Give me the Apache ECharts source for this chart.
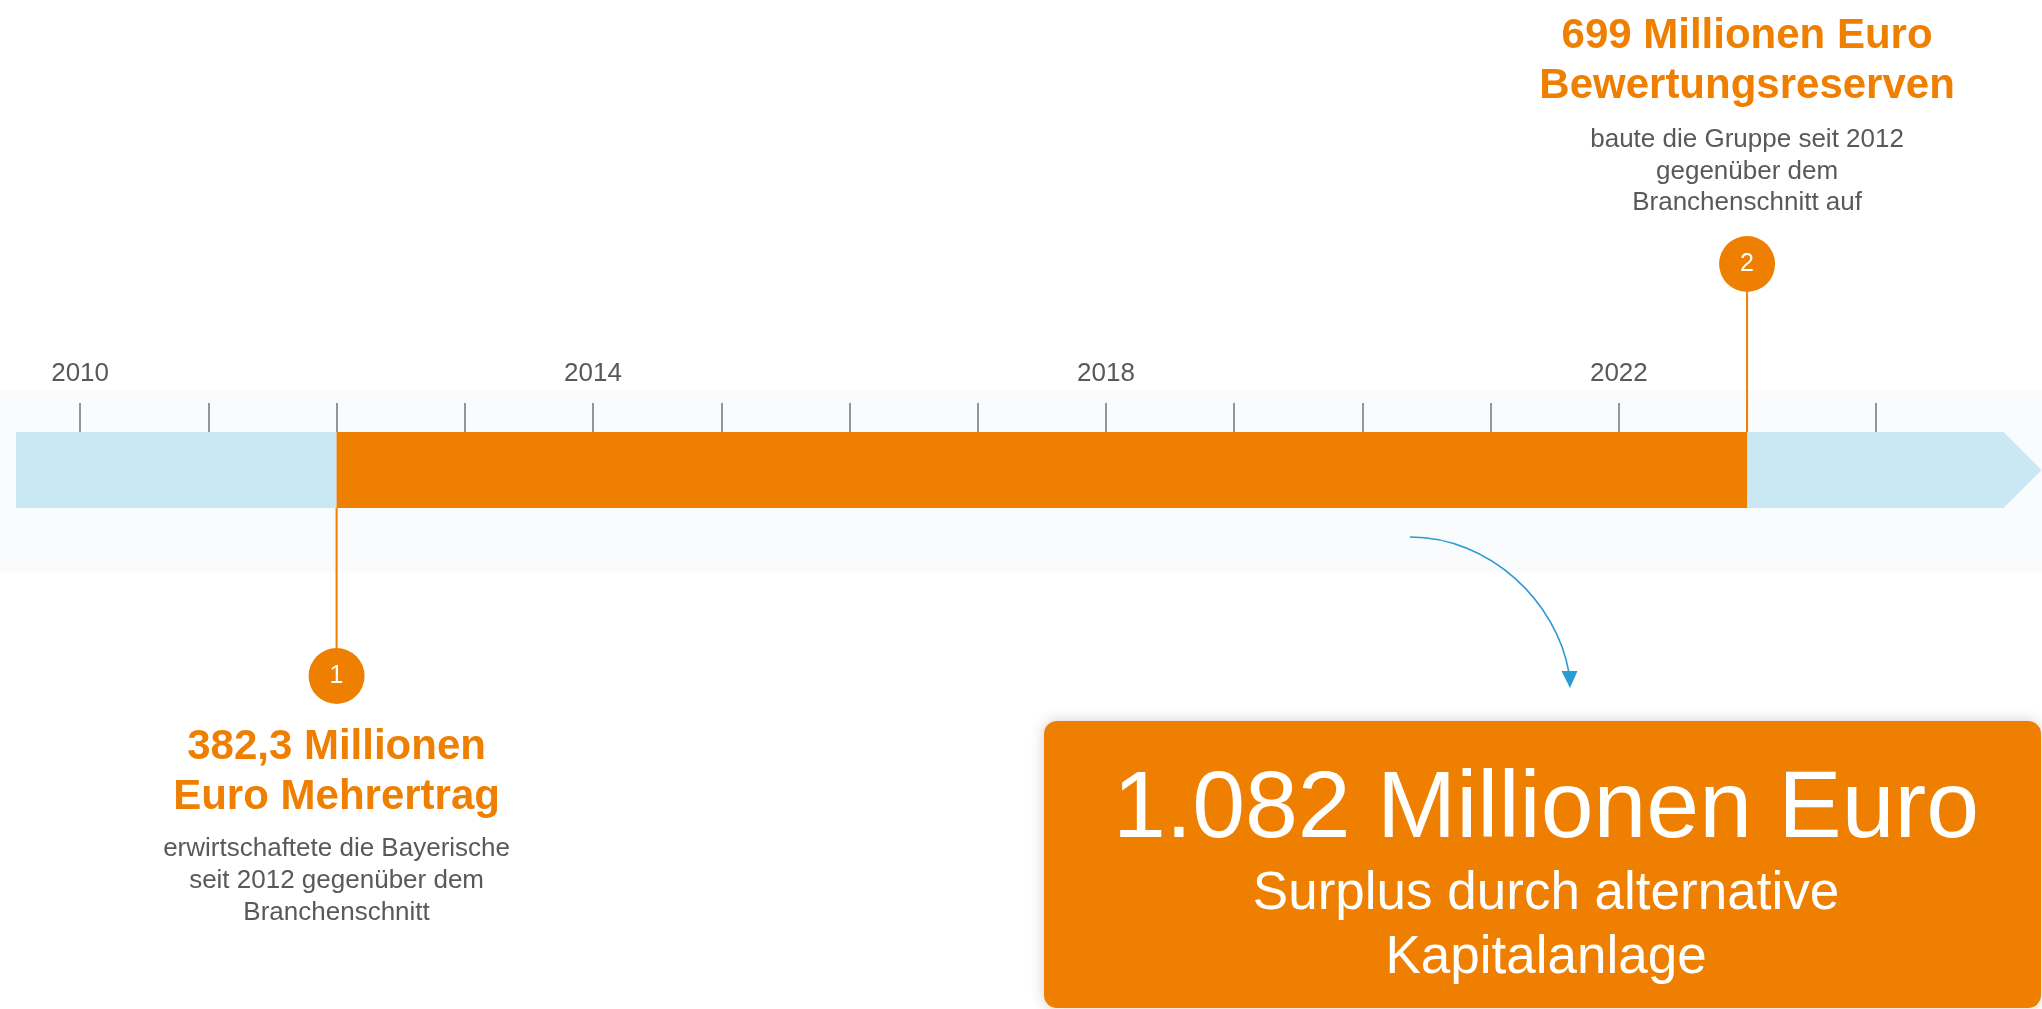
<!DOCTYPE html>
<html lang="de">
<head>
<meta charset="utf-8">
<title>Zeitstrahl Kapitalanlage</title>
<script src="https://cdn.jsdelivr.net/npm/echarts@6/dist/echarts.min.js"></script>
<style>
  html, body { margin: 0; padding: 0; background: #ffffff; }
  #chart { width: 2042px; height: 1009px; }
</style>
</head>
<body>
<div id="chart"></div>
<script>
// ---- Zeitachse ----
const tickYears = [2010, 2011, 2012, 2013, 2014, 2015, 2016, 2017, 2018, 2019, 2020, 2021, 2022, 2023, 2024];
const labelYears = [2010, 2014, 2018, 2022];
const axisStart = 2009.5;
const axisEnd = 2025.3;

// ---- Abschnitte des Zeitstrahls ----
const segmentNames = ['vor 2012', '2012–2023', 'ab 2023'];
const segmentFrom = [2009.5, 2012, 2023];
const segmentTo = [2012, 2023, 2025];

// ---- Meilensteine ----
const milestoneYears = [2012, 2023];
const milestoneNumbers = ['1', '2'];
const milestoneAmounts = [382.3, 699];            // Mio. Euro
const milestoneTitles = [
  ['{v} Millionen', 'Euro Mehrertrag'],
  ['{v} Millionen Euro', 'Bewertungsreserven']
];
const milestoneNotes = [
  ['erwirtschaftete die Bayerische', 'seit 2012 gegenüber dem', 'Branchenschnitt'],
  ['baute die Gruppe seit 2012', 'gegenüber dem', 'Branchenschnitt auf']
];

// ---- Gesamtergebnis ----
const surplusAmount = 1082;                        // Mio. Euro
const surplusLines = ['Surplus durch alternative', 'Kapitalanlage'];

// ---- Gestaltung ----
const ORANGE = '#ee7f00';
const LIGHT_BLUE = '#cae8f3';
const TEXT_GRAY = '#595959';
const ARROW_BLUE = '#2b9ad5';
const FONT = 'Arial, "Liberation Sans", Helvetica, sans-serif';
const segmentColors = [LIGHT_BLUE, ORANGE, LIGHT_BLUE];
const milestoneSide = ['below', 'above'];
const ARROW_LEN = 38;       // Pfeilspitze am Ende des Zeitstrahls
const STEM = 168;           // Abstand Balkenkante -> Kreismitte
const RADIUS = 28;
const MID_SHIFT = 0.26;     // Abstand Textmitte -> Grundlinie (in em)

// deutsche Zahlenschreibweise: 1082 -> "1.082", 382.3 -> "382,3"
function deNumber(v) {
  const parts = String(v).split('.');
  const intPart = parts[0].replace(/\B(?=(\d{3})+(?!\d))/g, '.');
  return parts[1] ? intPart + ',' + parts[1] : intPart;
}

// Textzeile, positioniert über die Grundlinie
function textLine(text, x, baseline, size, weight, color) {
  return {
    type: 'text',
    style: {
      text: text,
      x: x,
      y: baseline - size * MID_SHIFT,
      font: weight + ' ' + size + 'px ' + FONT,
      fill: color,
      align: 'center', textAlign: 'center',
      verticalAlign: 'middle', textVerticalAlign: 'middle'
    }
  };
}

const chart = echarts.init(document.getElementById('chart'), null, { renderer: 'canvas' });

const segmentData = segmentFrom.map((f, i) => [f, 'Zeitstrahl', segmentTo[i], i]);
// heller Hintergrund zuerst, dann der orange Zeitraum
const segmentOrder = [0, 2, 1];

const milestoneData = milestoneYears.map((y, i) => [y, 'Zeitstrahl', i]);

const option = {
  animation: false,
  backgroundColor: '#ffffff',
  grid: { left: 16, right: 0, top: 432, height: 76 },
  xAxis: {
    type: 'value',
    position: 'top',
    min: axisStart,
    max: axisEnd,
    axisLine: { show: false },
    splitLine: { show: false },
    axisTick: {
      show: true,
      customValues: tickYears,
      length: 29,
      lineStyle: { color: '#767676', width: 1.5 }
    },
    axisLabel: {
      customValues: labelYears,
      margin: 45,
      fontSize: 26,
      fontFamily: FONT,
      color: TEXT_GRAY,
      formatter: v => String(v)
    }
  },
  yAxis: {
    type: 'category',
    data: ['Zeitstrahl'],
    show: false
  },
  graphic: [
    // leichter Schatten hinter dem Zeitstrahl
    {
      type: 'rect', z: -1, silent: true,
      shape: { x: 0, y: 390, width: 2042, height: 182 },
      style: { fill: '#fafbfc' }
    },
    // geschwungener Pfeil zum Ergebnis
    {
      type: 'bezierCurve', z: 10, silent: true,
      shape: { x1: 1410, y1: 537, cpx1: 1490, cpy1: 537, cpx2: 1557, cpy2: 602, x2: 1569, y2: 673 },
      style: { stroke: ARROW_BLUE, lineWidth: 1.6, fill: null }
    },
    {
      type: 'polygon', z: 10, silent: true,
      shape: { points: [[1561.5, 671], [1577.5, 671], [1570, 688]] },
      style: { fill: ARROW_BLUE }
    },
    // Ergebnis-Kasten
    {
      type: 'rect', z: 10, silent: true,
      shape: { x: 1044, y: 721, width: 997, height: 287, r: 13 },
      style: { fill: ORANGE, shadowBlur: 14, shadowColor: 'rgba(60,40,20,0.22)' }
    },
    Object.assign(textLine(deNumber(surplusAmount) + ' Millionen Euro', 1546, 835, 95, 'normal', '#ffffff'), { z: 11, silent: true }),
    Object.assign(textLine(surplusLines[0], 1546, 908, 53, 'normal', '#ffffff'), { z: 11, silent: true }),
    Object.assign(textLine(surplusLines[1], 1546, 972, 53, 'normal', '#ffffff'), { z: 11, silent: true })
  ],
  series: [
    {
      type: 'custom',
      name: 'Zeitraum',
      coordinateSystem: 'cartesian2d',
      encode: { x: [0, 2], y: 1 },
      data: segmentOrder.map(i => ({ name: segmentNames[i], value: segmentData[i] })),
      renderItem: function (params, api) {
        const i = api.value(3);
        const p0 = api.coord([api.value(0), 0]);
        const p1 = api.coord([api.value(2), 0]);
        const h = api.size([1, 1])[1];
        const top = p0[1] - h / 2;
        const bottom = p0[1] + h / 2;
        if (i === segmentTo.length - 1) {
          return {
            type: 'polygon',
            shape: { points: [[p0[0], top], [p1[0], top], [p1[0] + ARROW_LEN, p0[1]], [p1[0], bottom], [p0[0], bottom]] },
            style: { fill: segmentColors[i] }
          };
        }
        return {
          type: 'rect',
          shape: { x: p0[0], y: top, width: p1[0] - p0[0], height: h },
          style: { fill: segmentColors[i] }
        };
      }
    },
    {
      type: 'custom',
      name: 'Meilensteine',
      coordinateSystem: 'cartesian2d',
      encode: { x: 0, y: 1 },
      z: 5,
      data: milestoneData,
      renderItem: function (params, api) {
        const i = api.value(2);
        const c = api.coord([api.value(0), 0]);
        const x = c[0];
        const h = api.size([1, 1])[1];
        const top = c[1] - h / 2;
        const bottom = c[1] + h / 2;
        const below = milestoneSide[i] === 'below';
        const cy = below ? bottom + STEM : top - STEM;
        const titles = milestoneTitles[i].map(t => t.replace('{v}', deNumber(milestoneAmounts[i])));
        const notes = milestoneNotes[i];
        const children = [
          {
            type: 'line',
            shape: below
              ? { x1: x, y1: bottom, x2: x, y2: cy - RADIUS }
              : { x1: x, y1: cy + RADIUS, x2: x, y2: top },
            style: { stroke: ORANGE, lineWidth: 2 }
          },
          { type: 'circle', shape: { cx: x, cy: cy, r: RADIUS }, style: { fill: ORANGE } },
          {
            type: 'text',
            style: {
              text: milestoneNumbers[i], x: x, y: cy,
              font: 'normal 25px ' + FONT, fill: '#ffffff',
              align: 'center', textAlign: 'center',
              verticalAlign: 'middle', textVerticalAlign: 'middle'
            }
          }
        ];
        if (below) {
          let y = cy + 82;
          titles.forEach(t => { children.push(textLine(t, x, y, 42, 'bold', ORANGE)); y += 50; });
          y += 48 - 50;
          notes.forEach(n => { children.push(textLine(n, x, y, 26, 'normal', TEXT_GRAY)); y += 31.7; });
        } else {
          let y = cy - 54;
          notes.slice().reverse().forEach(n => { children.push(textLine(n, x, y, 26, 'normal', TEXT_GRAY)); y -= 31.7; });
          y += 31.7 - 49;
          titles.slice().reverse().forEach(t => { children.push(textLine(t, x, y, 42, 'bold', ORANGE)); y -= 50; });
        }
        return { type: 'group', children: children };
      }
    }
  ]
};

chart.setOption(option);
</script>
</body>
</html>
